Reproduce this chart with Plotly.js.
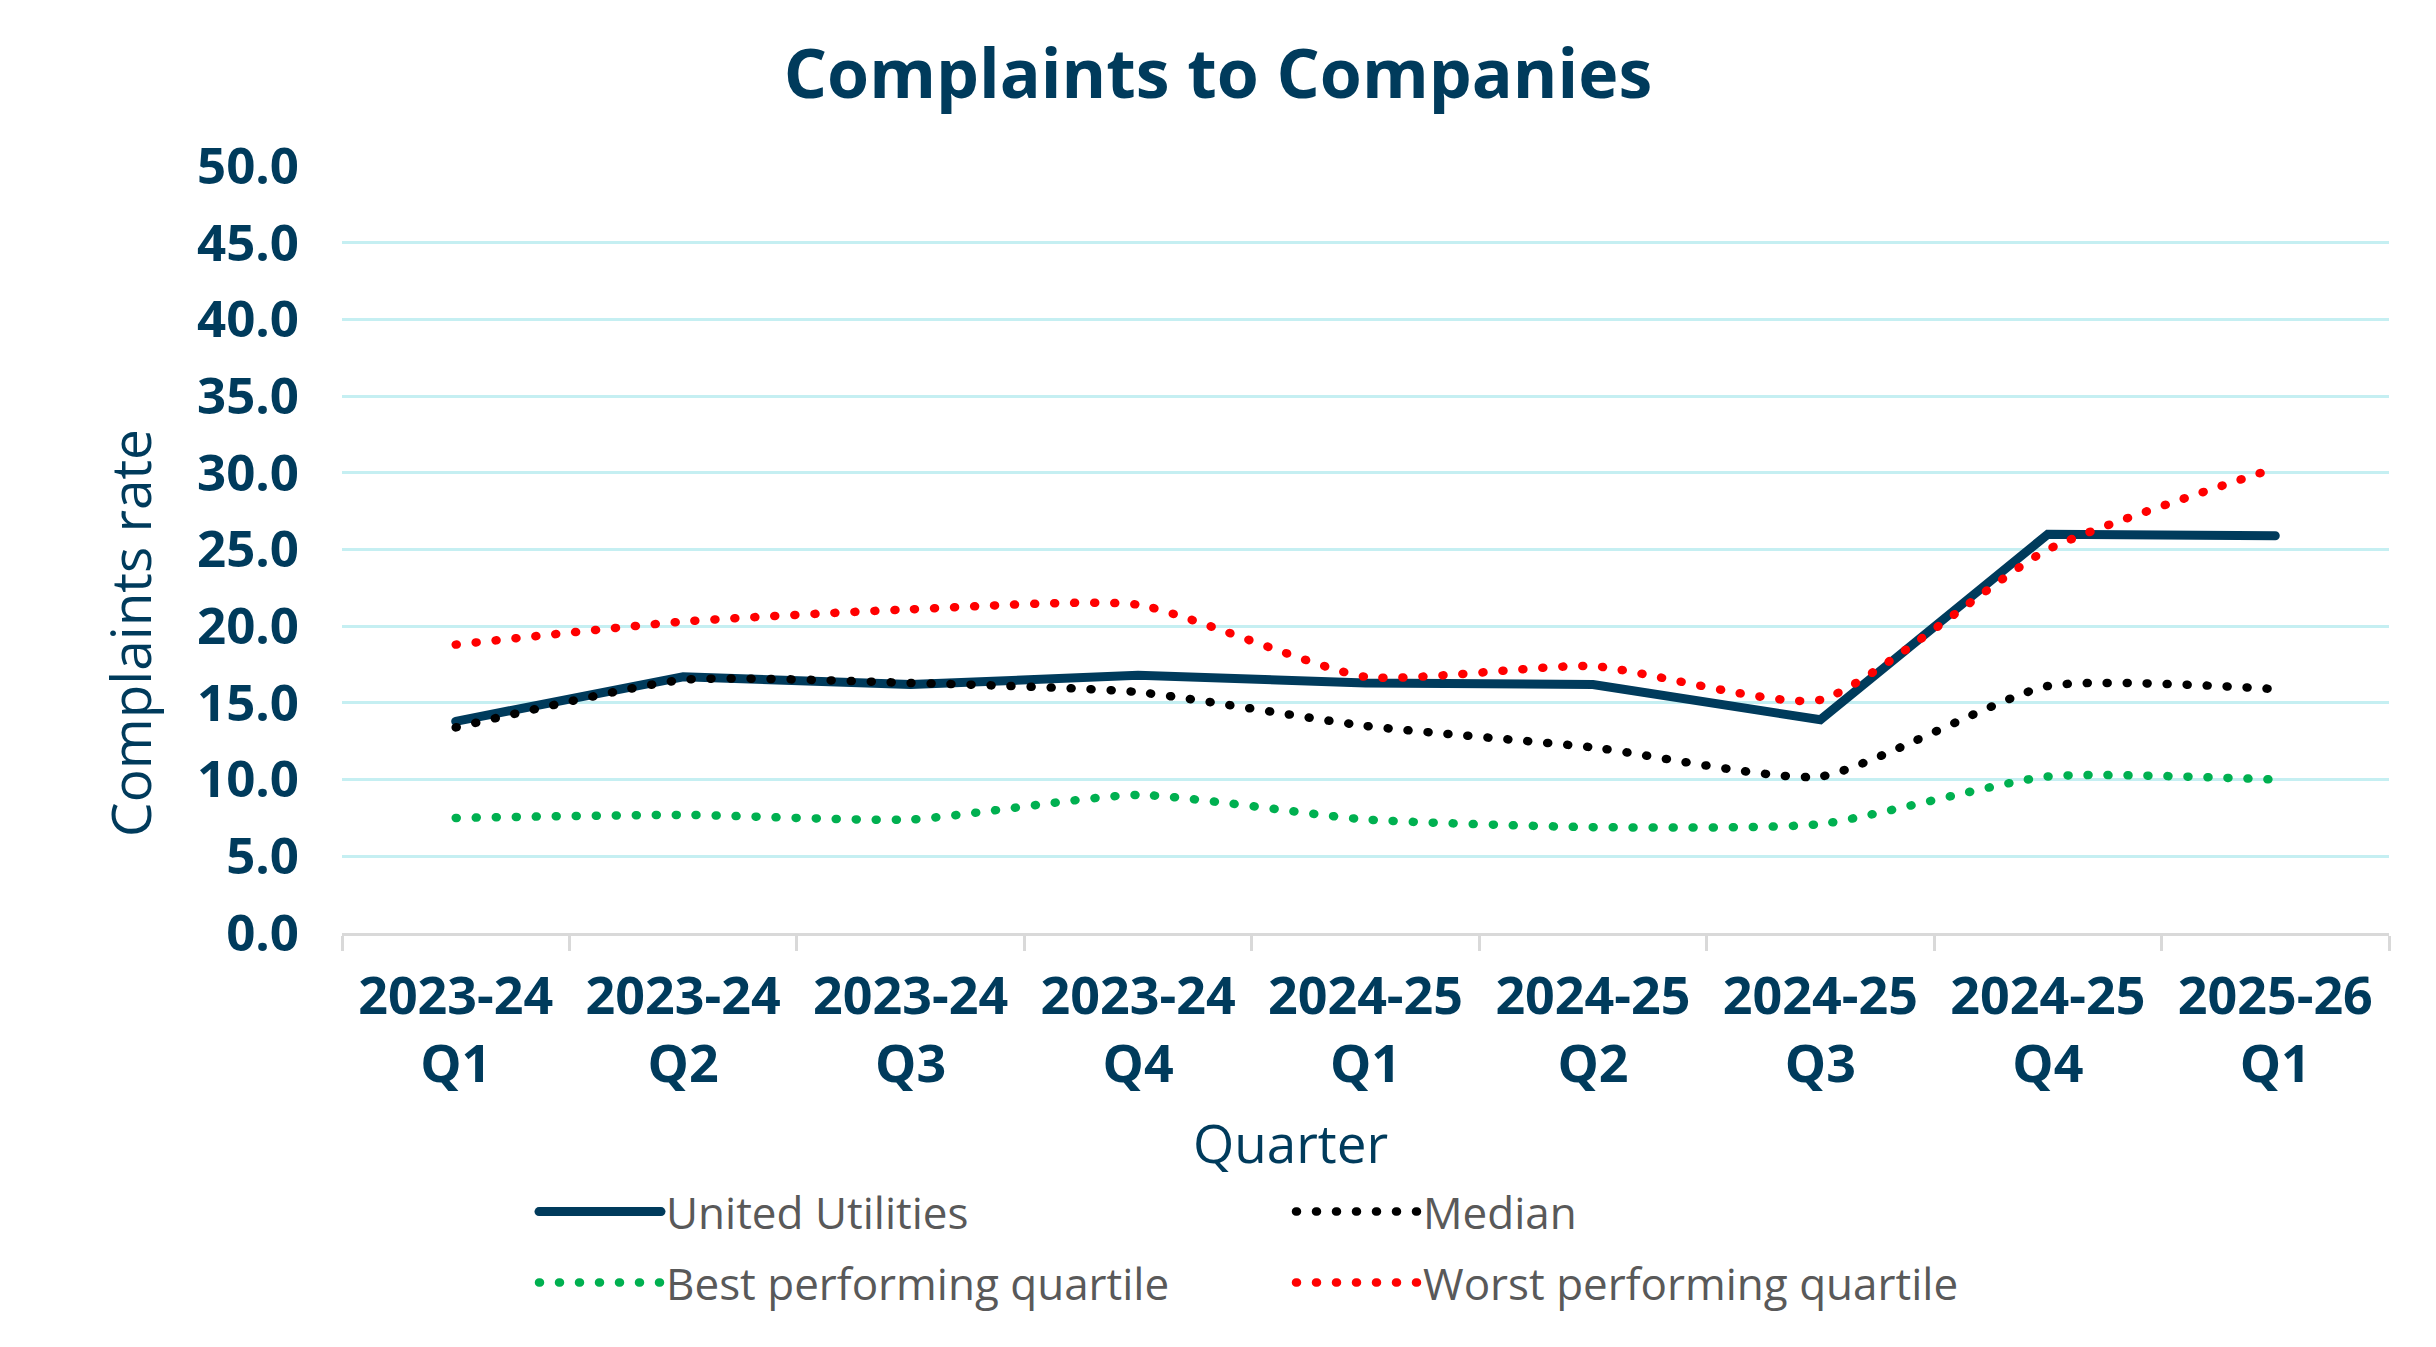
<!DOCTYPE html>
<html><head><meta charset="utf-8">
<script src="https://cdn.plot.ly/plotly-3.0.1.min.js"></script>
<style>
html,body{margin:0;padding:0;background:#fff;}
#chart{width:2436px;height:1347px;}
.scatterlayer path.js-line, .legendlines path.js-line{stroke-linecap:round;}
</style></head><body><div id="chart"></div>
<script>
const quarters = ["2023-24<br>Q1","2023-24<br>Q2","2023-24<br>Q3","2023-24<br>Q4","2024-25<br>Q1","2024-25<br>Q2","2024-25<br>Q3","2024-25<br>Q4","2025-26<br>Q1"];
const unitedUtilities = [13.8,16.7,16.2,16.8,16.3,16.2,13.9,26.0,25.9];
const median = [13.4,16.5,16.3,15.7,13.5,12.1,10.2,16.1,15.9];
const bestQuartile = [7.5,7.7,7.4,9.0,7.4,6.9,7.1,10.2,10.0];
const worstQuartile = [18.8,20.3,21.1,21.4,16.7,17.4,15.2,25.0,30.3];
const seriesNames = ["United Utilities","Median","Best performing quartile","Worst performing quartile"];
const yTicks = [0,5,10,15,20,25,30,35,40,45,50];

const navy = '#003B5C';
const dotDash = '1px,19px';
const smooth = 0.55;
const W = 2436, H = 1347;
const L = 342, R = 2389, T = 166, B = 933;

const traces = [
  {x: quarters, y: unitedUtilities, name: seriesNames[0], type:'scatter', mode:'lines',
   line:{color:navy, width:9, shape:'linear'}, legend:'legend'},
  {x: quarters, y: median, name: seriesNames[1], type:'scatter', mode:'lines',
   line:{color:'#000000', width:8.5, dash:dotDash, shape:'spline', smoothing:smooth}, legend:'legend'},
  {x: quarters, y: bestQuartile, name: seriesNames[2], type:'scatter', mode:'lines',
   line:{color:'#00B050', width:8.5, dash:dotDash, shape:'spline', smoothing:smooth}, legend:'legend2'},
  {x: quarters, y: worstQuartile, name: seriesNames[3], type:'scatter', mode:'lines',
   line:{color:'#FF0000', width:8.5, dash:dotDash, shape:'spline', smoothing:smooth}, legend:'legend2'}
];

const legendFont = {family:'Open Sans', size:44, color:'#595959'};
const legendCommon = {orientation:'h', xref:'container', yref:'container', xanchor:'left', yanchor:'middle',
  font: legendFont, itemwidth:122, entrywidth:620, entrywidthmode:'pixels', bgcolor:'rgba(0,0,0,0)',
  traceorder:'normal', itemclick:false, itemdoubleclick:false};

const layout = {
  width: W, height: H,
  paper_bgcolor:'#ffffff', plot_bgcolor:'#ffffff',
  margin:{l:L, r:W-R, t:T, b:H-B, pad:0},
  title:{text:'Complaints to Companies', x:0.5, xanchor:'center', xref:'container',
         y:1-74/H, yanchor:'middle', yref:'container',
         font:{family:'Open Sans', size:68, weight:700, color:navy}},
  xaxis:{type:'category', range:[-0.5, quarters.length-0.5], tickson:'boundaries', ticks:'outside', ticklen:15, tickwidth:2.5, tickcolor:'#D9D9D9',
         showline:true, linecolor:'#D9D9D9', linewidth:2.5, showgrid:false, zeroline:false,
         tickfont:{family:'Open Sans', size:52, weight:700, color:navy}, ticklabelstandoff:16,
         fixedrange:true},
  yaxis:{range:[0,50], tickvals:yTicks, tickformat:'.1f', showgrid:true, gridcolor:'#C5EFF2', gridwidth:2.5,
         zeroline:false, showline:false, ticks:'',
         tickfont:{family:'Open Sans', size:51, weight:700, color:navy}, ticklabelstandoff:42,
         fixedrange:true},
  showlegend:true,
  legend: Object.assign({}, legendCommon, {x:534/W, y:1-1212/H}),
  legend2: Object.assign({}, legendCommon, {x:534/W, y:1-1283/H}),
  annotations:[
    {text:'Complaints rate', xref:'paper', yref:'paper', x:(129-L)/(R-L), y:(B-633)/(B-T),
     xanchor:'center', yanchor:'middle', textangle:-90, showarrow:false,
     font:{family:'Open Sans', size:55, color:navy}},
    {text:'Quarter', xref:'paper', yref:'paper', x:(1290-L)/(R-L), y:(B-1142)/(B-T),
     xanchor:'center', yanchor:'middle', showarrow:false,
     font:{family:'Open Sans', size:53, color:navy}}
  ]
};

Plotly.newPlot('chart', traces, layout, {displayModeBar:false});
</script></body></html>
